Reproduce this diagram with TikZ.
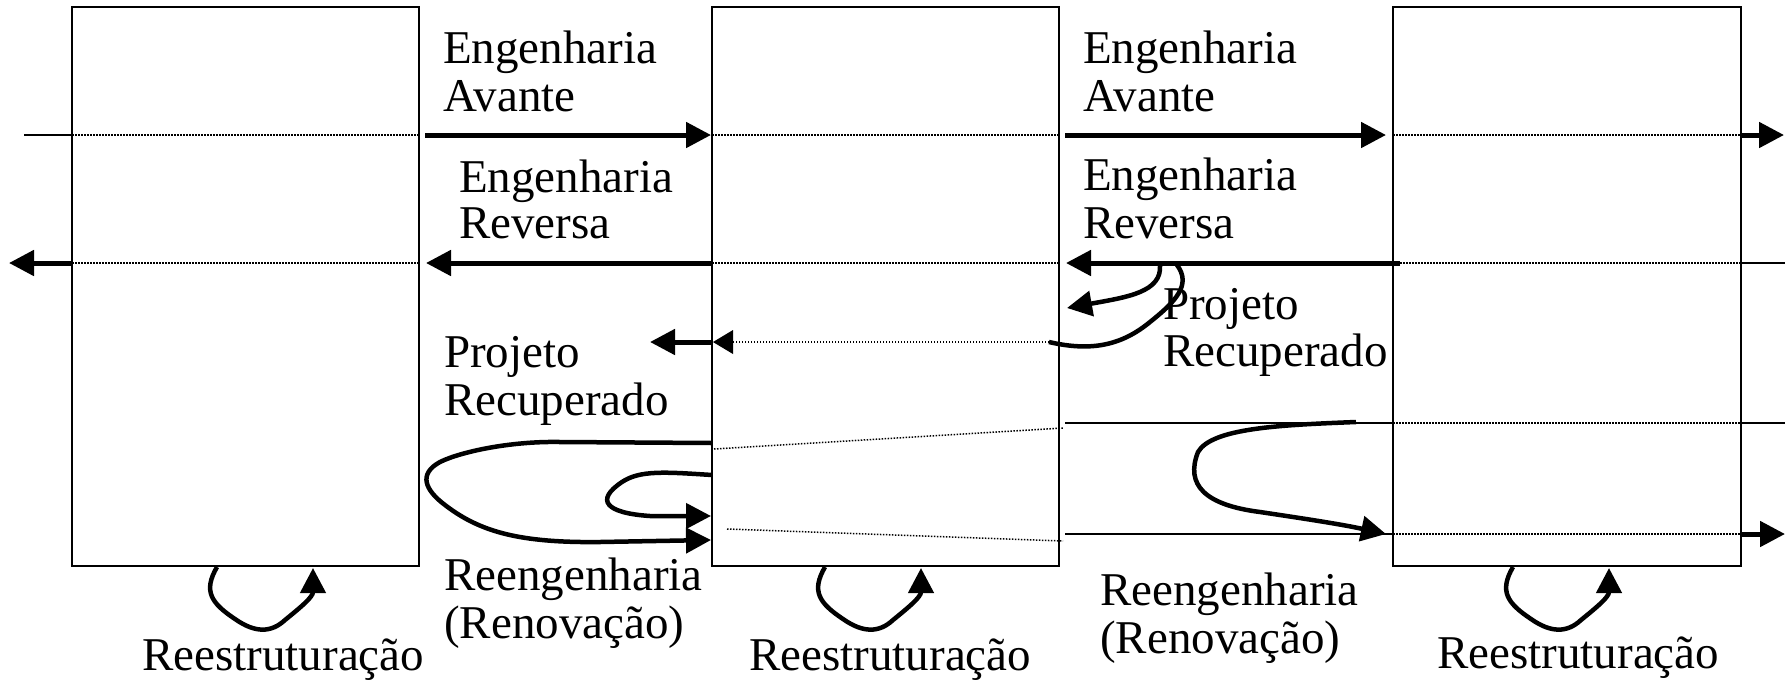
\documentclass[tikz,border=0pt]{standalone}
\usepackage{fontspec}
\setmainfont{Liberation Serif}
\usetikzlibrary{arrows.meta}
\tikzset{
  box/.style={draw, line width=2pt, inner sep=0pt, outer sep=0pt, minimum width=347pt, minimum height=559pt},
  thinln/.style={line width=2pt},
  dotln/.style={line width=1.5pt, dash pattern=on 1.5pt off 1.5pt},
  thickln/.style={line width=5pt},
  curveln/.style={line width=4.5pt},
  tipped/.style={-{Triangle[length=25pt,width=25pt]}},
  smalltip/.style={-{Triangle[length=20pt,width=24pt]}},
  lbl/.style={inner sep=0pt, anchor=base west, font=\fontsize{47}{48}\selectfont},
  reloop/.pic={
    \draw[curveln, tipped] (0,0) .. controls (-14,24) and (-6,36) .. (18,52)
      .. controls (38,66) and (54,66) .. (68,53)
      .. controls (84,40) and (96,30) .. (96,1);
  }
}
\begin{document}
\begin{tikzpicture}[x=1pt,y=-1pt]
\useasboundingbox[fill=white] (0,0) rectangle (1791,681);
% boxes
\node[box] (b1) at (245.5,286.5) {};
\node[box] (b2) at (885.5,286.5) {};
\node[box, minimum width=348pt] (b3) at (1567,286.5) {};

% forward engineering level
\coordinate (fa) at (24,135);
\coordinate (fb) at (425,135);
\coordinate (fc) at (1065,135);
\coordinate (fd) at (1784,135);
\draw[thinln] (fa) -- (b1.west |- fa);
\draw[dotln] (b1.west |- fa) -- (b1.east |- fa);
\draw[thickln, tipped] (fb) -- ([xshift=-1pt]b2.west |- fa);
\draw[dotln] (b2.west |- fa) -- (b2.east |- fa);
\draw[thickln, tipped] (fc) -- ([xshift=-7pt]b3.west |- fa);
\draw[dotln] (b3.west |- fa) -- (b3.east |- fa);
\draw[thickln, tipped] (b3.east |- fa) -- (fd);

% reverse engineering level
\coordinate (ra) at (9,263);
\coordinate (rb) at (426,263);
\coordinate (rc) at (1066,263);
\coordinate (rd) at (1400,263);
\coordinate (re) at (1785,263);
\draw[thickln, tipped] (b1.west |- ra) -- (ra);
\draw[dotln] (b1.west |- ra) -- (b1.east |- ra);
\draw[thickln, tipped] (b2.west |- ra) -- (rb);
\draw[dotln] (b2.west |- ra) -- (b2.east |- ra);
\draw[thickln, tipped] (rd) -- (rc);
\draw[dotln] (rd) -- (b3.east |- ra);
\draw[thinln] (b3.east |- ra) -- (re);

% design recovery level
\coordinate (pa) at (650,342);
\coordinate (pb) at (1049,342);
\draw[thickln, tipped] (b2.west |- pa) -- (pa);
\draw[dotln] (pb) -- (b2.west |- pa);
\fill ([xshift=1pt]b2.west |- pa) -- ++(20,-12) -- ++(0,24) -- cycle;
\coordinate (pc) at (1177,265);
\coordinate (pd) at (1160,265);
\coordinate (pe) at (1067,308);
\draw[curveln] (pc) .. controls (1192,285) and (1175,302) .. (1150,322)
   .. controls (1122,345) and (1092,352) .. (pb);
\draw[curveln, tipped] (pd) .. controls (1162,292) and (1128,297) .. (pe);

% reengineering, left
\coordinate (ga) at (712,443);
\coordinate (gb) at (711,540);
\coordinate (gc) at (712,475);
\coordinate (gd) at (711,516);
\draw[curveln, tipped] (ga) -- (560,442) .. controls (510,441) and (460,452) .. (440,462)
  .. controls (418,474) and (425,490) .. (445,505)
  .. controls (480,532) and (520,543) .. (600,542) -- (gb);
\draw[curveln, tipped] (gc) .. controls (665,472) and (640,470) .. (622,482)
  .. controls (595,500) and (605,513) .. (650,516) -- (gd);
\draw[dotln] (714,449) -- (1063,428);
\draw[dotln] (727,529) -- (1063,541);

% reengineering, right
\coordinate (ha) at (1065,423);
\coordinate (hb) at (1785,423);
\coordinate (hc) at (1065,534);
\coordinate (hd) at (1785,534);
\coordinate (he) at (1356,422);
\coordinate (hf) at (1386,534);
\draw[thinln] (ha) -- (b3.west |- ha);
\draw[dotln] (b3.west |- ha) -- (b3.east |- ha);
\draw[thinln] (b3.east |- ha) -- (hb);
\draw[thinln] (hc) -- (b3.west |- hc);
\draw[dotln] (b3.west |- hc) -- (b3.east |- hc);
\draw[thickln, tipped] (b3.east |- hc) -- (hd);
\draw[curveln, tipped] (he) .. controls (1280,425) and (1212,428) .. (1198,452)
  .. controls (1185,485) and (1205,505) .. (1260,512)
  .. controls (1300,518) and (1340,524) .. (hf);

% restructuring loops
\pic at (217,567) {reloop};
\pic at (825,567) {reloop};
\pic at (1513,567) {reloop};

% labels
\node[lbl] (t1) at (443,63) {Engenharia};
\node[lbl] (t2) at (443,111) {Avante};
\node[lbl] (t3) at (459,192) {Engenharia};
\node[lbl] (t4) at (459,238) {Reversa};
\node[lbl] (t5) at (444,367) {Projeto};
\node[lbl] (t6) at (444,415) {Recuperado};
\node[lbl] (t7) at (444,590) {Reengenharia};
\node[lbl] (t8) at (444,638) {(Renovação)};
\node[lbl] (t9) at (142,670) {Reestruturação};
\node[lbl] (t10) at (749,670) {Reestruturação};
\node[lbl] (t11) at (1437,668) {Reestruturação};
\node[lbl] (u1) at (1083,63) {Engenharia};
\node[lbl] (u2) at (1083,111) {Avante};
\node[lbl] (u3) at (1083,190) {Engenharia};
\node[lbl] (u4) at (1083,238) {Reversa};
\node[lbl] (u5) at (1163,319) {Projeto};
\node[lbl] (u6) at (1163,366) {Recuperado};
\node[lbl] (u7) at (1100,605) {Reengenharia};
\node[lbl] (u8) at (1100,653) {(Renovação)};
\end{tikzpicture}
\end{document}
